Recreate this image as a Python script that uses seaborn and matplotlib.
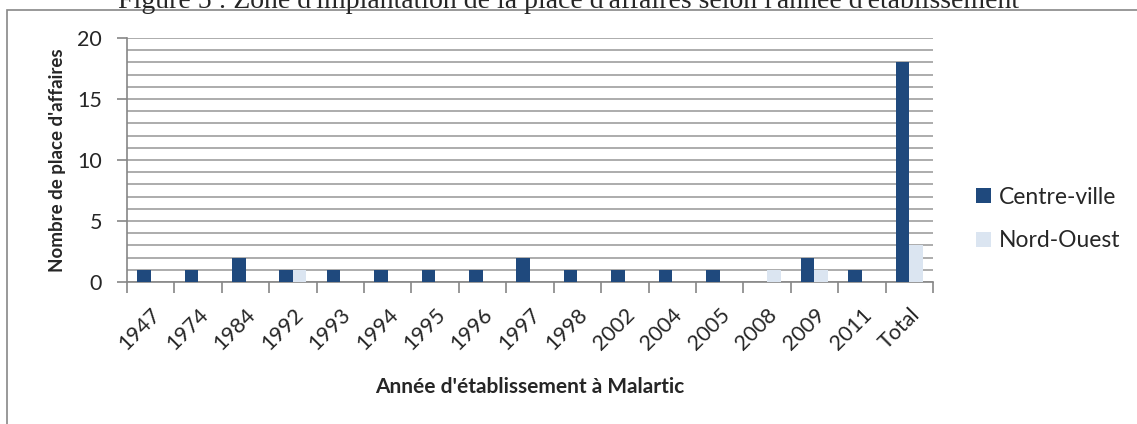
import numpy as np
import pandas as pd
import seaborn as sns
import matplotlib.pyplot as plt
from matplotlib import ticker
from matplotlib.patches import Rectangle

# données
annees = ['1947', '1974', '1984', '1992', '1993', '1994', '1995', '1996', '1997',
          '1998', '2002', '2004', '2005', '2008', '2009', '2011', 'Total']
centre_ville = [1, 1, 2, 1, 1, 1, 1, 1, 2, 1, 1, 1, 1, 0, 2, 1, 18]
nord_ouest = [0, 0, 0, 1, 0, 0, 0, 0, 0, 0, 0, 0, 0, 1, 1, 0, 3]
zones = ['Centre-ville', 'Nord-Ouest']
couleurs = {'Centre-ville': '#1F497D', 'Nord-Ouest': '#DBE5F1'}

df = pd.DataFrame({'Annee': annees * 2,
                   'Nombre': centre_ville + nord_ouest,
                   'Zone': [zones[0]] * len(annees) + [zones[1]] * len(annees)})

sns.set_style('white')
plt.rcParams['font.family'] = ['Lato', 'DejaVu Sans']

W, H = 1137, 424
fig = plt.figure(figsize=(W / 100, H / 100), dpi=100)
ax = fig.add_axes([127 / W, 1 - 282 / H, (933 - 127) / W, (282 - 38) / H])

sns.barplot(data=df, x='Annee', y='Nombre', hue='Zone', order=annees,
            hue_order=zones, palette=couleurs, width=0.57, saturation=1,
            ax=ax, zorder=3, edgecolor='none')

grey = '#A6A6A6'
ax.set_ylim(0, 20)
ax.set_xlim(-0.5, len(annees) - 0.5)
ax.yaxis.set_major_locator(ticker.MultipleLocator(5))
ax.yaxis.set_minor_locator(ticker.MultipleLocator(1))
ax.grid(True, axis='y', which='both', color=grey, linewidth=1.3, zorder=0)
ax.set_axisbelow(True)
ax.tick_params(axis='y', which='major', length=7, width=1.2, color='#868686',
               labelsize=15.5, pad=11, left=True)
ax.tick_params(axis='y', which='minor', length=0)
ax.xaxis.set_minor_locator(ticker.FixedLocator(np.arange(-0.5, len(annees), 1)))
ax.tick_params(axis='x', which='minor', length=8, width=1.2, color='#868686', bottom=True)
ax.tick_params(axis='x', which='major', length=0, labelsize=15.5, pad=16)
for lab in ax.get_xticklabels():
    lab.set_rotation(45)
    lab.set_ha('right')
    lab.set_rotation_mode('anchor')

for s in ['top', 'right']:
    ax.spines[s].set_visible(False)
for s in ['left', 'bottom']:
    ax.spines[s].set_color('#868686')
    ax.spines[s].set_linewidth(1.2)

ax.set_xlabel("Année d'établissement à Malartic", fontsize=15, fontweight='bold', labelpad=17)
ax.set_ylabel("Nombre de place d'affaires", fontsize=13.5, fontweight='bold', labelpad=8)

leg = ax.legend(loc='center left', bbox_to_anchor=(967 / W, 1 - 219 / H),
                bbox_transform=fig.transFigure, frameon=False, fontsize=16.5,
                handlelength=0.63, handleheight=0.63, handletextpad=0.36,
                labelspacing=1.0, borderaxespad=0)

# cadre du graphique et titre coupé
fig.add_artist(Rectangle((7 / W, -0.2), 1.2, 1.2 - 10 / H, transform=fig.transFigure,
                         fill=False, edgecolor='#878787', linewidth=1.2))
fig.text(0.5, 1 - 8 / H, "Figure 5 : Zone d'implantation de la place d'affaires selon l'année d'établissement",
         ha='center', va='baseline', fontsize=20, family='Liberation Serif')

fig.savefig('out.png', dpi=100)
